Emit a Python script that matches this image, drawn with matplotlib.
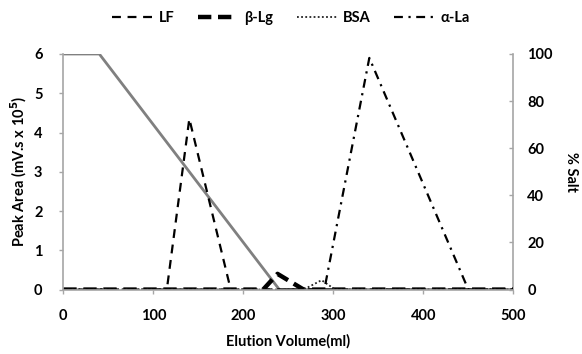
import matplotlib
matplotlib.use("Agg")
import matplotlib.pyplot as plt

plt.rcParams['font.family'] = ['Lato', 'DejaVu Sans']
plt.rcParams['font.weight'] = 'bold'

# Data
lf_x = [0, 115, 140, 186, 500]
lf_y = [0, 0, 4.35, 0, 0]
blg_x = [0, 222, 238, 267, 500]
blg_y = [0, 0, 0.40, 0, 0]
bsa_x = [0, 267, 287, 302, 500]
bsa_y = [0, 0, 0.24, 0, 0]
ala_x = [0, 290, 340, 450, 500]
ala_y = [0, 0, 5.9, 0, 0]
salt_x = [0, 40, 240, 500]
salt_y = [100, 100, 0, 0]

xticks = [0, 100, 200, 300, 400, 500]
yticks = [0, 1, 2, 3, 4, 5, 6]
y2ticks = [0, 20, 40, 60, 80, 100]

fig = plt.figure(figsize=(5.82, 3.54), dpi=100)
ax = fig.add_axes([0.1088, 0.182, 0.7732, 0.6655])
ax2 = ax.twinx()

spine_c = '#a6a6a6'
ax2.plot(salt_x, salt_y, color='#808080', lw=2.0, zorder=1)
l1, = ax.plot(lf_x, lf_y, color='black', lw=1.6, dashes=(4, 3), label='LF')
l2, = ax.plot(blg_x, blg_y, color='black', lw=3.2, dashes=(3, 1.5), label='β-Lg')
l3, = ax.plot(bsa_x, bsa_y, color='#222222', lw=1.3, dashes=(1, 1.3), label='BSA')
l4, = ax.plot(ala_x, ala_y, color='black', lw=1.6, dashes=(4, 2.5, 1, 2.5), label='α-La')

ax.set_zorder(ax2.get_zorder() + 1)
ax.patch.set_visible(False)

ax.set_xlim(0, 500)
ax.set_ylim(0, 6)
ax2.set_ylim(0, 100)
ax.set_xticks(xticks)
ax.set_yticks(yticks)
ax2.set_yticks(y2ticks)

for a in (ax, ax2):
    for s in a.spines.values():
        s.set_color(spine_c)
        s.set_linewidth(1.2)
    a.spines['top'].set_visible(False)
ax2.spines['left'].set_visible(False)
ax2.spines['bottom'].set_visible(False)
ax.spines['right'].set_visible(False)

fs = 10.5
ax.tick_params(axis='both', colors=spine_c, labelcolor='black', labelsize=fs, length=3, width=1)
ax.tick_params(axis='x', pad=11)
ax.tick_params(axis='y', pad=12)
ax2.tick_params(axis='y', colors=spine_c, labelcolor='black', labelsize=fs, length=3, width=1,
                direction='in', pad=10)
for lab in ax.get_xticklabels() + ax.get_yticklabels() + ax2.get_yticklabels():
    lab.set_fontweight('bold')

ax.set_xlabel('Elution Volume(ml)', fontsize=fs, fontweight='bold', labelpad=8)
ymid = 0.182 + 0.6655 / 2
fig.text(19 / 582, ymid, 'Peak Area (mV.s x 10$^{5}$)', fontsize=fs, fontweight='bold',
         rotation=90, ha='center', va='center')
fig.text(571 / 582, ymid, '% Salt', fontsize=fs, fontweight='bold',
         rotation=270, ha='center', va='center')

fig.legend(handles=[l1, l2, l3, l4], loc='center', bbox_to_anchor=(0.5, 0.948), ncol=4,
           frameon=False, fontsize=fs, handlelength=2.8, columnspacing=1.6, handletextpad=0.4)

fig.savefig('out.png', dpi=100)
